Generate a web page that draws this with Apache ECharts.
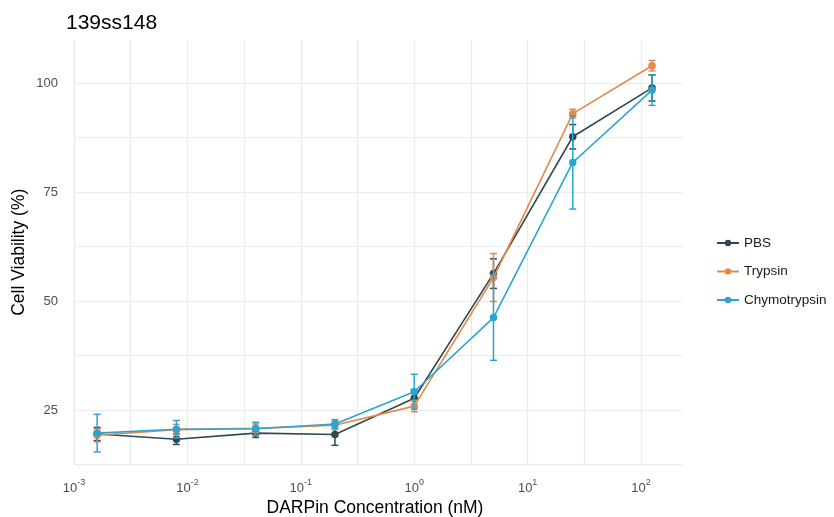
<!DOCTYPE html>
<html>
<head>
<meta charset="utf-8">
<script src="https://cdn.jsdelivr.net/npm/echarts@6/dist/echarts.min.js"></script>
<style>html,body{margin:0;padding:0;background:#fff;}#c{width:834px;height:517px;}</style>
</head>
<body>
<div id="c"></div>
<script>
const titleText = '139ss148';
const seriesNames = ['PBS', 'Trypsin', 'Chymotrypsin'];
const concentrations = [0.0016, 0.008, 0.04, 0.2, 1, 5, 25, 125];
const pbsMean = [19.5, 18.3, 19.7, 19.4, 27.7, 56.3, 87.7, 98.9];
const pbsErr = [1.5, 1.2, 1.0, 2.5, 2.0, 3.4, 2.8, 3.0];
const trypsinMean = [19.2, 20.5, 20.8, 21.5, 25.9, 55.4, 93.0, 104.0];
const trypsinErr = [1.5, 1.2, 1.0, 1.0, 1.3, 5.5, 1.0, 1.2];
const chymoMean = [19.7, 20.6, 20.7, 21.8, 29.2, 46.2, 81.8, 98.4];
const chymoErr = [4.3, 2.0, 1.5, 1.0, 4.0, 9.8, 10.7, 3.5];
const yTickLabels = [25, 50, 75, 100];
const xTickExponents = [-3, -2, -1, 0, 1, 2];

const colors = ['#2d4a52', '#e3894b', '#2aa5d2'];
const means = [pbsMean, trypsinMean, chymoMean];
const errs = [pbsErr, trypsinErr, chymoErr];
const logX = concentrations.map(c => Math.log10(c));

const series = [];
seriesNames.forEach((name, i) => {
  series.push({
    name: name + ' error',
    type: 'custom',
    z: 2 + i * 3,
    renderItem: function (params, api) {
      const x = api.value(0);
      const lo = api.coord([x, api.value(1)]);
      const hi = api.coord([x, api.value(2)]);
      const w = 3.5;
      const style = { stroke: colors[i], lineWidth: 1.5, fill: null };
      return {
        type: 'group',
        children: [
          { type: 'line', shape: { x1: lo[0], y1: lo[1], x2: hi[0], y2: hi[1] }, style: style },
          { type: 'line', shape: { x1: lo[0] - w, y1: lo[1], x2: lo[0] + w, y2: lo[1] }, style: style },
          { type: 'line', shape: { x1: hi[0] - w, y1: hi[1], x2: hi[0] + w, y2: hi[1] }, style: style }
        ]
      };
    },
    data: logX.map((x, k) => [x, means[i][k] - errs[i][k], means[i][k] + errs[i][k]]),
    silent: true,
    animation: false
  });
  series.push({
    name: name,
    type: 'line',
    z: 3 + i * 3,
    data: logX.map((x, k) => [x, means[i][k]]),
    symbol: 'circle',
    symbolSize: 7.5,
    lineStyle: { width: 1.6, color: colors[i] },
    itemStyle: { color: colors[i] },
    animation: false
  });
});

const chart = echarts.init(document.getElementById('c'), null, { renderer: 'canvas' });
chart.setOption({
  backgroundColor: '#ffffff',
  color: colors,
  textStyle: { fontFamily: 'Liberation Sans, Arial, sans-serif' },
  title: {
    text: titleText,
    left: 66, top: 13, padding: 0,
    textStyle: { fontSize: 21, fontWeight: 'normal', color: '#000', fontFamily: 'Liberation Sans' }
  },
  legend: {
    data: seriesNames,
    orient: 'vertical',
    left: 711, top: 231,
    itemWidth: 22, itemHeight: 8, itemGap: 14.5,
    textStyle: { fontSize: 13.5, color: '#1a1a1a', fontFamily: 'Liberation Sans' }
  },
  grid: { left: 74, right: 151, top: 40, bottom: 52.5, containLabel: false, outerBoundsMode: 'none' },
  xAxis: {
    type: 'value',
    min: -3, max: 2.37, interval: 0.5,
    name: 'DARPin Concentration (nM)',
    nameLocation: 'middle', nameGap: 33,
    nameTextStyle: { fontSize: 17.5, color: '#000', fontFamily: 'Liberation Sans', padding: [0, 7, 0, 0] },
    axisLine: { show: false }, axisTick: { show: false },
    splitLine: { show: true, showMaxLine: false, lineStyle: { color: '#ebebeb', width: 1.2 } },
    axisLabel: {
      margin: 14,
      formatter: function (v) {
        const r = Math.round(v);
        if (Math.abs(v - r) > 1e-6 || xTickExponents.indexOf(r) < 0) return '';
        return '{b|10}{s|' + r + '}';
      },
      rich: {
        b: { fontSize: 13, color: '#4d4d4d', fontFamily: 'Liberation Sans', lineHeight: 16, verticalAlign: 'bottom' },
        s: { fontSize: 9, color: '#4d4d4d', fontFamily: 'Liberation Sans', lineHeight: 9, verticalAlign: 'top' }
      }
    }
  },
  yAxis: {
    type: 'value',
    min: 12.5, max: 109.9, interval: 12.5,
    name: 'Cell Viability (%)',
    nameLocation: 'middle', nameGap: 46, nameRotate: 90, nameMoveOverlap: false,
    nameTextStyle: { fontSize: 17.5, color: '#000', fontFamily: 'Liberation Sans' },
    axisLine: { show: false }, axisTick: { show: false },
    splitLine: { show: true, showMaxLine: false, lineStyle: { color: '#ebebeb', width: 1.2 } },
    axisLabel: {
      margin: 16, fontSize: 13, color: '#4d4d4d', fontFamily: 'Liberation Sans',
      formatter: function (v) { return yTickLabels.indexOf(v) >= 0 ? String(v) : ''; }
    }
  },
  series: series
});
</script>
</body>
</html>
